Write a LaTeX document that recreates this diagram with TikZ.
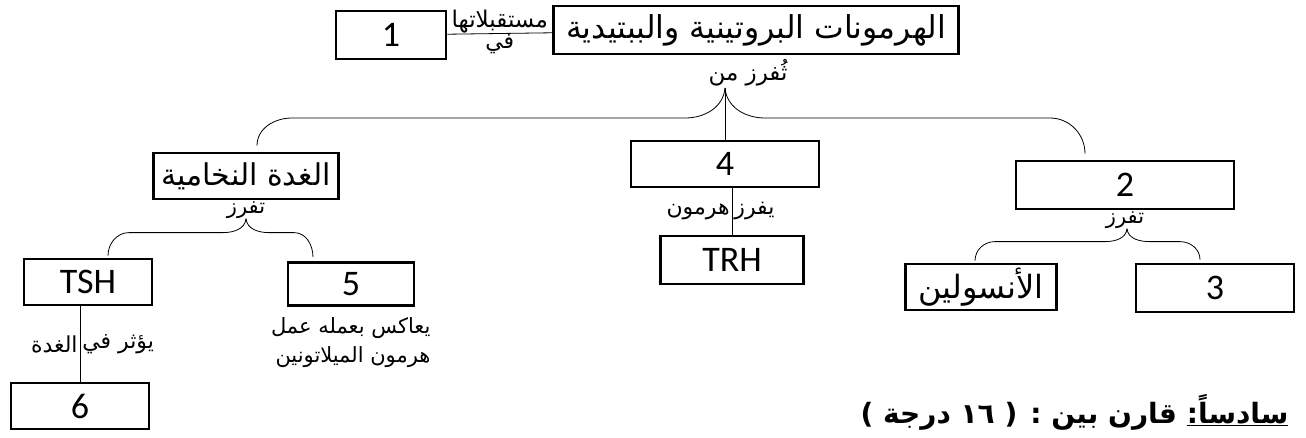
\documentclass[tikz,border=0pt]{standalone}
\usepackage{fontspec}
\TeXXeTstate=1
\newfontfamily\arabicfont[Script=Arabic]{DejaVu Sans}
\newfontfamily\numfont{Carlito}
\usetikzlibrary{calc}
\usetikzlibrary{positioning}
\newcommand{\artext}[1]{{\arabicfont\beginR #1\endR}}

\begin{document}
\begin{tikzpicture}
		[
		x=1pt, y=-1pt,
		font=\arabicfont\fontsize{22}{26}\selectfont
		]
		
		% Node styles: number boxes, word boxes, thin forks and small labels
		\tikzstyle{box node}=[draw,line width=2.6pt,minimum height=46pt,inner sep=2pt];
		\tikzstyle{num node}=[box node,font=\numfont\fontsize{36}{38}\selectfont];
		\tikzstyle{word node}=[box node,font=\arabicfont\fontsize{32}{36}\selectfont];
		\tikzstyle{fork}=[draw,line width=0.8pt];
		\tikzstyle{small label}=[inner sep=2pt,font=\arabicfont\fontsize{22}{26}\selectfont];
		\tikzstyle{fork label}=[inner sep=0pt,font=\arabicfont\fontsize{21}{24}\selectfont];
		
		\useasboundingbox (0,0) rectangle (1306,438);
		
		% Top row
		\node(horm)[word node,minimum width=405pt,minimum height=48pt,font=\arabicfont\fontsize{31.5}{36}\selectfont] at (756,30){\artext{الهرمونات البروتينية والببتيدية}};
		\node(one)[num node,minimum width=110pt,minimum height=48pt] at (391,35){1};
		\draw[fork](one)--(horm)
			node[midway,above,inner sep=0pt,font=\arabicfont\fontsize{23}{26}\selectfont]{\artext{مستقبلاتها}}
			node[midway,below,inner sep=1pt]{\artext{في}};
		\node(secr)[fork label,font=\arabicfont\fontsize{23}{26}\selectfont]at(748,73){\artext{ثُفرز من}};
		
		% Second row
		\node(pit)[word node,minimum width=185pt,font=\arabicfont\fontsize{30}{34}\selectfont] at (246,176){\artext{الغدة النخامية}};
		\node(four)[num node,minimum width=188pt] at (725,164){4};
		\node(two)[num node,minimum width=218pt,minimum height=48pt] at (1125,185){2};
		
		% Fork under the top box
		\coordinate(t1)at(725,88);
		\draw[fork](t1)to[out=-95,in=0](685,118)--(292,118)to[out=180,in=90]($(pit.north)+(11,-6)$);
		\draw[fork](t1)to[out=-85,in=180](765,118)--(1050,118)to[out=0,in=90]($(two.north)+(-40,-6)$);
		\draw[fork](t1)--(four.north);
		
		% Under the pituitary
		\node(pitsecr)[fork label,below=1pt of pit]{\artext{تفرز}};
		\node(tsh)[num node,minimum width=128pt] at (88,282){TSH};
		\node(five)[num node,minimum width=126pt,minimum height=43pt] at (351,284){5};
		\coordinate(t2)at(pitsecr.south);
		\draw[fork](t2)to[out=-95,in=0]++(-23,14)--++(-94,0)to[out=180,in=90]($(tsh.north)+(20,-2)$);
		\draw[fork](t2)to[out=-85,in=180]++(23,14)--++(25,0)to[out=0,in=90]($(five.north)+(-38,-4)$);
		\node(six)[num node,minimum width=138pt] at (80,406){6};
		\draw[fork](tsh.south -| six.north)--(six.north)
			node[midway,left,small label]{\artext{الغدة}}
			node[midway,right,small label]{\artext{يؤثر في}};
		\node(melat)[anchor=east,align=right,font=\arabicfont\fontsize{21}{29}\selectfont]at(434,343){\artext{يعاكس بعمله عمل}\\\artext{هرمون الميلاتونين}};
		
		% Under box 4
		\node(trh)[num node,minimum width=143pt,minimum height=48pt] at (732,260){TRH};
		\draw[fork](four.south -| trh.north)--(trh.north)
			node[midway,left,small label]{\artext{هرمون}}
			node[midway,right,small label]{\artext{يفرز}};
		
		% Under box 2
		\node(twosecr)[fork label,below=1pt of two]{\artext{تفرز}};
		\node(ins)[word node,minimum width=151pt] at (981,287){\artext{الأنسولين}};
		\node(three)[num node,minimum width=158pt,minimum height=48pt] at (1215,288){3};
		\coordinate(t3)at($(twosecr.south)+(2,0)$);
		\draw[fork](t3)to[out=-95,in=0]++(-22,13)--++(-110,0)to[out=180,in=90]($(ins.north)+(-6,-2)$);
		\draw[fork](t3)to[out=-85,in=180]++(23,13)--++(30,0)to[out=0,in=90]($(three.north)+(-15,-3)$);
		
		% Question title
		\node(title)[anchor=east,font=\arabicfont\bfseries\fontsize{28}{32}\selectfont]at(1292,412)
			{\beginR\underline{\beginR سادساً\kern0pt:\endR} قارن بين : ( \beginL١٦\endL{} درجة )\endR};
\end{tikzpicture}
\end{document}
